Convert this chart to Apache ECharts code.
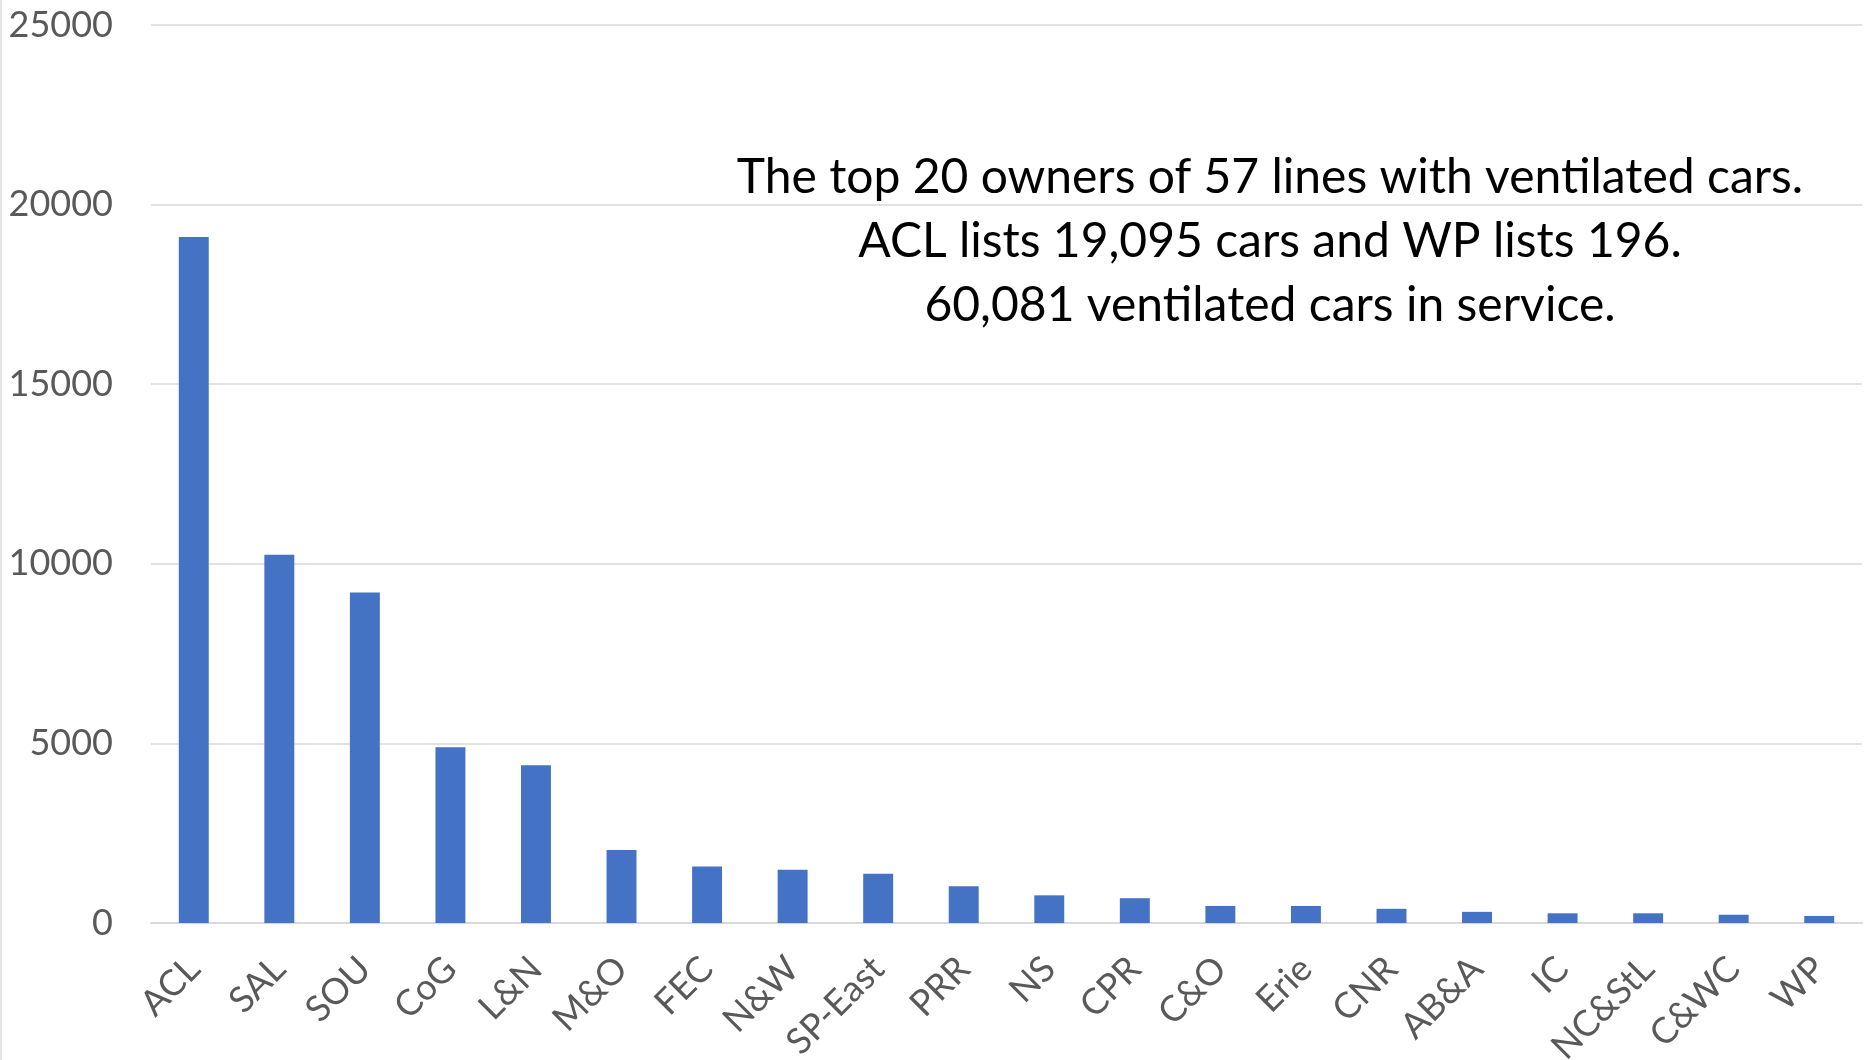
<!DOCTYPE html>
<html>
<head>
<meta charset="utf-8">
<script src="https://cdn.jsdelivr.net/npm/echarts@6/dist/echarts.min.js"></script>
<style>
html,body{margin:0;padding:0;background:#fff;}
#c{width:1871px;height:1060px;}
</style>
</head>
<body>
<div id="c"></div>
<script>
const categories = ["ACL","SAL","SOU","CoG","L&N","M&O","FEC","N&W","SP-East","PRR","NS","CPR","C&O","Erie","CNR","AB&A","IC","NC&StL","C&WC","WP"];
const cars = [19095,10250,9200,4890,4390,2030,1570,1480,1370,1020,770,690,475,475,395,310,270,270,230,196];
const yTicks = [0,5000,10000,15000,20000,25000];
const noteLines = ["The top 20 owners of 57 lines with ventilated cars.","ACL lists 19,095 cars and WP lists 196.","60,081 ventilated cars in service."];

const chart = echarts.init(document.getElementById('c'));
const labelFont = 'Lato, "Open Sans", sans-serif';
chart.setOption({
  animation:false,
  backgroundColor:'#ffffff',
  grid:{left:151,right:9,top:25,bottom:137,containLabel:false,outerBoundsMode:'none'},
  xAxis:{
    type:'category',
    data:categories,
    axisTick:{show:false},
    axisLine:{lineStyle:{color:'#d9d9d9',width:2}},
    axisLabel:{rotate:45,color:'#595959',fontSize:36,fontFamily:labelFont,margin:40,interval:0}
  },
  yAxis:{
    type:'value',
    min:yTicks[0],max:yTicks[yTicks.length-1],interval:5000,
    axisLine:{show:false},axisTick:{show:false},
    splitLine:{lineStyle:{color:'#d9d9d9',width:1.5}},
    axisLabel:{color:'#595959',fontSize:36,fontFamily:labelFont,margin:38,formatter:v=>String(v)}
  },
  series:[{
    type:'bar',
    data:cars,
    barWidth:'35%',
    itemStyle:{color:'#4472C4'}
  }],
  graphic:[
    {type:'line',shape:{x1:1,y1:0,x2:1,y2:1060},style:{stroke:'#e6e6e6',lineWidth:2}},
    {type:'group',children:noteLines.map((t,i)=>({
      type:'text',
      x:1270,y:178+i*64,
      style:{text:t,fontSize:48,fontFamily:labelFont,fill:'#000',textAlign:'center',textVerticalAlign:'middle'}
    }))}
  ]
});
</script>
</body>
</html>
